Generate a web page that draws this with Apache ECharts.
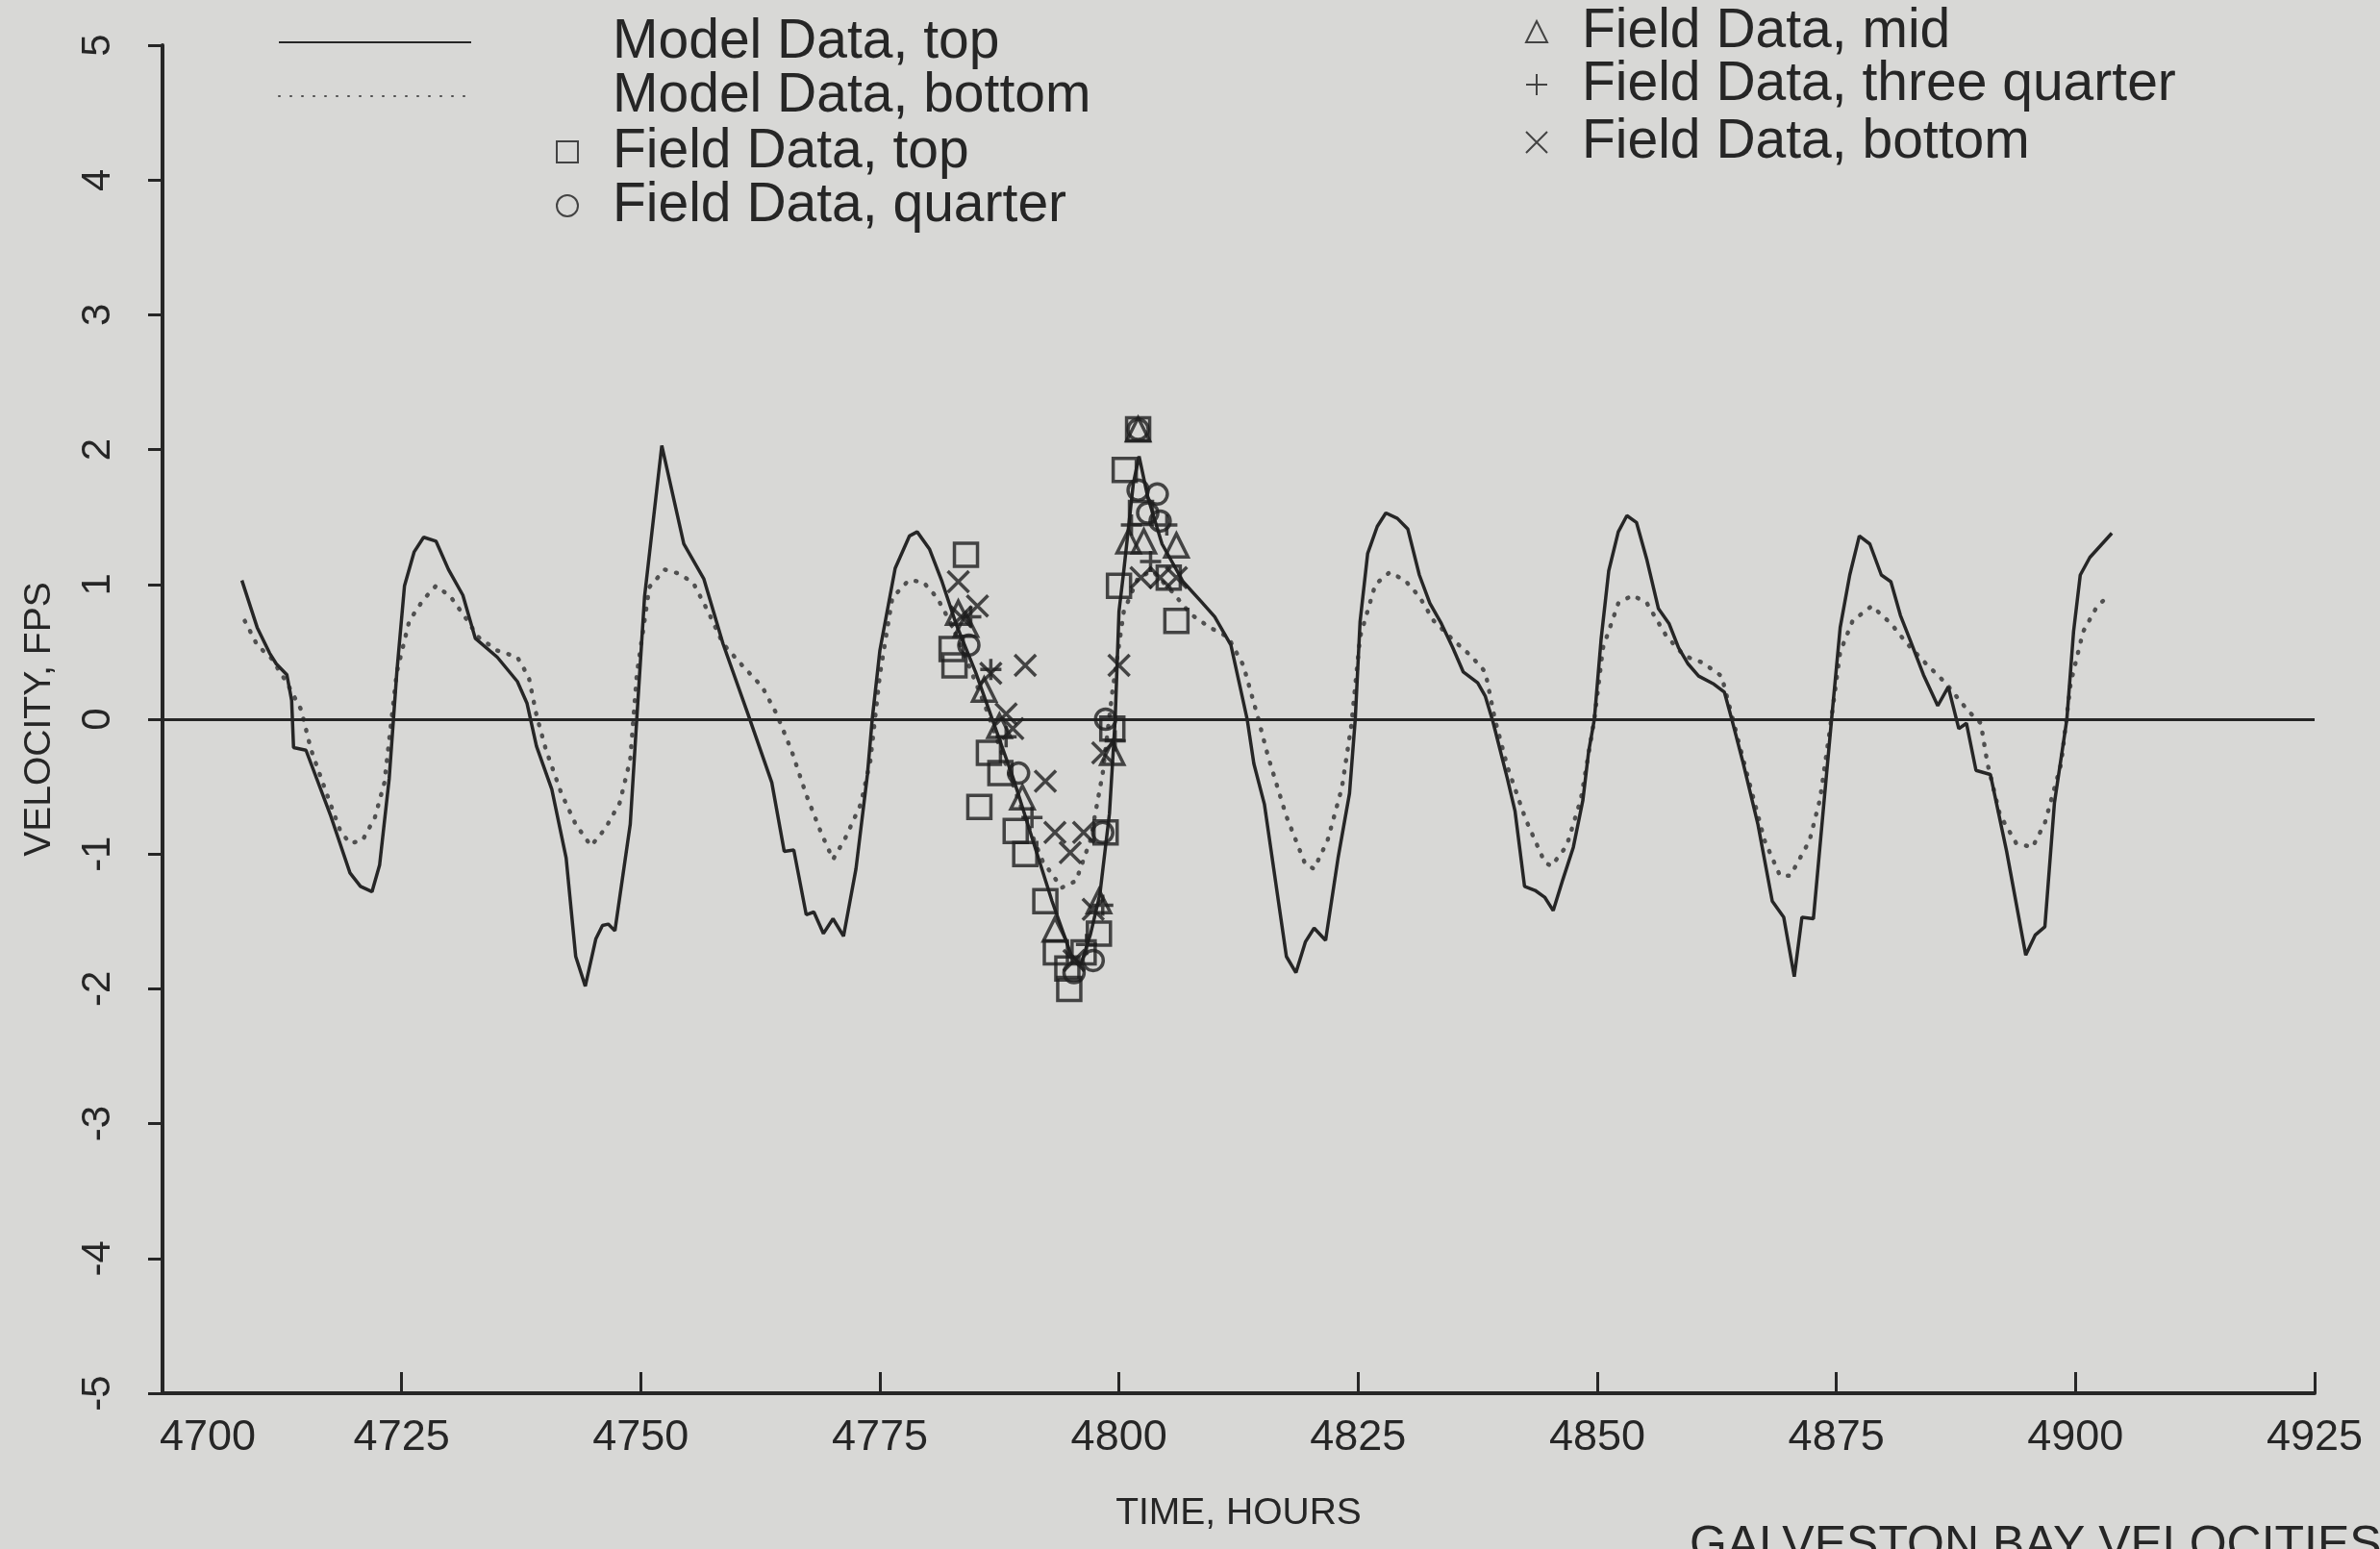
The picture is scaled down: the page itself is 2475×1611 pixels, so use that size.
<!DOCTYPE html>
<html>
<head>
<meta charset="utf-8">
<script src="https://cdn.jsdelivr.net/npm/echarts@6/dist/echarts.min.js"></script>
<style>
	html, body { margin: 0; padding: 0; background: #d7d7d5; }
	#velEchart { width: 2475px; height: 1611px; }
</style>
</head>
<body>
<div id="velEchart"></div>
<script>
//刻度
var xTicks = [4700, 4725, 4750, 4775, 4800, 4825, 4850, 4875, 4900, 4925];
var yTicks = [-5, -4, -3, -2, -1, 0, 1, 2, 3, 4, 5];

//模型数据 [时间, 流速]
var modelTop = [
	[4708.3, 1.03], [4709.9, 0.68], [4711.2, 0.49], [4711.9, 0.41], [4713.0, 0.33], [4713.5, 0.14],
	[4713.7, -0.21], [4715.0, -0.23], [4717.6, -0.72], [4719.6, -1.14], [4720.7, -1.24], [4721.9, -1.28],
	[4722.7, -1.08], [4723.7, -0.44], [4724.5, 0.35], [4725.3, 0.99], [4726.3, 1.24], [4727.3, 1.35],
	[4728.6, 1.32], [4729.9, 1.11], [4731.4, 0.92], [4732.7, 0.60], [4735.0, 0.46], [4737.1, 0.28],
	[4738.1, 0.12], [4739.1, -0.20], [4740.7, -0.52], [4742.2, -1.03], [4743.2, -1.76], [4744.2, -1.98],
	[4745.3, -1.63], [4746.0, -1.53], [4746.6, -1.52], [4747.3, -1.57], [4748.9, -0.78], [4749.6, 0.02],
	[4750.4, 0.91], [4752.2, 2.03], [4754.5, 1.30], [4756.6, 1.04], [4758.6, 0.56], [4761.2, 0.04],
	[4763.7, -0.47], [4765.0, -0.98], [4766.0, -0.97], [4767.3, -1.45], [4768.1, -1.43], [4769.1, -1.59],
	[4770.1, -1.48], [4771.2, -1.61], [4772.5, -1.11], [4773.7, -0.41], [4774.2, 0.0], [4775.0, 0.51],
	[4776.6, 1.12], [4778.1, 1.36], [4778.9, 1.39], [4780.2, 1.26], [4781.5, 1.02], [4783.0, 0.70],
	[4785.0, 0.35], [4787.0, -0.05], [4789.0, -0.45], [4791.0, -0.90], [4793.0, -1.35], [4795.0, -1.75],
	[4796.0, -1.82], [4797.0, -1.60], [4798.0, -1.30], [4799.0, -0.70], [4799.6, 0.0], [4800.0, 0.80],
	[4800.5, 1.10], [4801.5, 1.75], [4802.1, 1.95], [4803.0, 1.65], [4804.5, 1.30], [4806.7, 1.02],
	[4808.5, 0.88], [4810.0, 0.76], [4811.7, 0.55], [4813.4, 0.0], [4814.1, -0.33], [4815.2, -0.63],
	[4817.5, -1.76], [4818.5, -1.88], [4819.5, -1.65], [4820.4, -1.55], [4821.6, -1.64], [4822.9, -1.03],
	[4824.1, -0.55], [4824.7, 0.0], [4825.2, 0.72], [4826.0, 1.23], [4827.0, 1.43], [4827.9, 1.53],
	[4829.1, 1.49], [4830.2, 1.41], [4831.4, 1.07], [4832.5, 0.86], [4833.7, 0.71], [4834.9, 0.53],
	[4836.0, 0.35], [4837.5, 0.27], [4838.3, 0.17], [4839.1, -0.02], [4840.6, -0.44], [4841.4, -0.68],
	[4842.4, -1.24], [4843.5, -1.27], [4844.5, -1.32], [4845.4, -1.42], [4846.4, -1.19], [4847.5, -0.95],
	[4848.5, -0.60], [4849.1, -0.24], [4849.7, 0.0], [4850.4, 0.59], [4851.2, 1.10], [4852.2, 1.39],
	[4853.1, 1.51], [4854.1, 1.46], [4855.2, 1.18], [4856.4, 0.82], [4857.5, 0.71], [4858.5, 0.53],
	[4859.5, 0.41], [4860.6, 0.32], [4862.2, 0.26], [4863.3, 0.20], [4864.1, -0.01], [4865.2, -0.31],
	[4866.8, -0.78], [4868.3, -1.35], [4869.5, -1.47], [4870.6, -1.91], [4871.4, -1.47], [4872.6, -1.48],
	[4873.7, -0.62], [4874.5, 0.0], [4875.4, 0.68], [4876.4, 1.07], [4877.4, 1.36], [4878.5, 1.30],
	[4879.7, 1.07], [4880.7, 1.02], [4881.7, 0.77], [4882.7, 0.59], [4884.1, 0.33], [4885.6, 0.10],
	[4886.7, 0.24], [4887.8, -0.07], [4888.6, -0.03], [4889.6, -0.38], [4891.1, -0.41], [4892.8, -0.98],
	[4894.8, -1.75], [4895.8, -1.60], [4896.8, -1.54], [4897.8, -0.62], [4899.1, 0.0], [4899.8, 0.65],
	[4900.5, 1.07], [4901.5, 1.20], [4903.8, 1.38]
];
var modelBottom = [
	[4708.6, 0.73], [4709.9, 0.55], [4711.4, 0.45], [4713.0, 0.27], [4714.5, 0.07], [4715.5, -0.22],
	[4717.1, -0.54], [4718.6, -0.83], [4719.6, -0.92], [4720.9, -0.90], [4722.2, -0.73], [4723.2, -0.47],
	[4724.5, 0.35], [4725.8, 0.73], [4727.3, 0.89], [4728.6, 0.99], [4730.1, 0.91], [4731.7, 0.75],
	[4733.0, 0.61], [4735.0, 0.51], [4737.1, 0.46], [4738.3, 0.31], [4739.1, 0.03], [4740.1, -0.23],
	[4741.7, -0.55], [4743.2, -0.78], [4744.8, -0.94], [4746.3, -0.81], [4747.8, -0.62], [4748.9, -0.30],
	[4749.6, 0.34], [4750.9, 0.98], [4752.5, 1.11], [4754.0, 1.08], [4755.5, 1.01], [4757.1, 0.79],
	[4758.6, 0.56], [4760.6, 0.40], [4762.7, 0.24], [4764.2, 0.04], [4765.8, -0.24], [4767.3, -0.56],
	[4768.9, -0.85], [4770.1, -1.04], [4771.4, -0.88], [4773.0, -0.63], [4774.0, -0.31], [4775.0, 0.33],
	[4776.3, 0.90], [4778.0, 1.03], [4779.5, 1.02], [4781.0, 0.90], [4782.5, 0.70], [4784.0, 0.45],
	[4786.0, 0.10], [4788.0, -0.30], [4790.0, -0.70], [4792.0, -1.05], [4794.0, -1.25], [4795.5, -1.20],
	[4797.0, -0.90], [4798.3, -0.40], [4799.3, 0.20], [4800.5, 0.80], [4802.0, 1.05], [4803.5, 1.10],
	[4805.5, 0.95], [4807.5, 0.78], [4809.5, 0.68], [4811.4, 0.61], [4813.0, 0.40], [4814.5, 0.02],
	[4815.6, -0.28], [4817.5, -0.72], [4819.5, -1.08], [4820.4, -1.11], [4821.8, -0.90], [4823.3, -0.51],
	[4824.3, -0.04], [4825.2, 0.61], [4826.8, 1.00], [4828.3, 1.09], [4829.9, 1.03], [4831.4, 0.91],
	[4832.9, 0.73], [4834.9, 0.59], [4836.8, 0.47], [4838.3, 0.35], [4839.3, 0.0], [4840.6, -0.35],
	[4842.5, -0.74], [4844.5, -1.06], [4845.2, -1.09], [4846.8, -0.94], [4848.3, -0.59], [4849.7, 0.0],
	[4850.6, 0.53], [4852.2, 0.86], [4853.7, 0.92], [4855.2, 0.86], [4857.2, 0.62], [4859.1, 0.47],
	[4861.0, 0.42], [4863.0, 0.32], [4864.1, 0.02], [4865.6, -0.39], [4867.5, -0.90], [4869.1, -1.16],
	[4870.2, -1.16], [4872.2, -0.90], [4873.3, -0.59], [4874.3, -0.09], [4875.4, 0.50], [4876.7, 0.73],
	[4878.7, 0.84], [4880.7, 0.71], [4882.4, 0.56], [4884.4, 0.41], [4886.4, 0.27], [4888.8, 0.06],
	[4890.1, -0.03], [4890.8, -0.33], [4892.1, -0.71], [4893.8, -0.92], [4895.5, -0.95], [4896.8, -0.77],
	[4898.5, -0.33], [4899.5, 0.27], [4900.8, 0.65], [4902.2, 0.83], [4903.2, 0.90]
];

//实测数据
var fieldTop = [
	[4784.0, 1.22], [4782.5, 0.52], [4782.8, 0.40], [4786.4, -0.25], [4787.6, -0.40], [4785.4, -0.65],
	[4789.2, -0.83], [4790.2, -1.00], [4792.3, -1.35], [4793.4, -1.73], [4794.6, -1.85], [4794.8, -2.00],
	[4796.3, -1.73], [4797.9, -1.59], [4798.6, -0.84], [4799.3, -0.07], [4800.0, 0.99], [4800.6, 1.85],
	[4802.0, 2.15], [4802.3, 1.53], [4806.0, 0.73], [4805.2, 1.05]
];
var fieldQuarter = [
	[4802.0, 2.15], [4802.0, 1.70], [4803.0, 1.53], [4804.0, 1.67], [4804.3, 1.47], [4798.3, -0.84],
	[4798.6, 0.0], [4797.3, -1.79], [4795.3, -1.88], [4784.3, 0.55], [4789.5, -0.40]
];
var fieldMid = [
	[4783.2, 0.79], [4784.0, 0.70], [4785.9, 0.22], [4789.9, -0.58], [4793.3, -1.56], [4797.9, -1.35],
	[4799.3, -0.25], [4801.0, 1.32], [4802.6, 1.32], [4806.0, 1.29], [4802.0, 2.15], [4787.5, -0.05]
];
var fieldThreeQuarter = [
	[4784.5, 0.76], [4786.6, 0.37], [4788.2, -0.13], [4790.9, -0.73], [4796.6, -1.67], [4798.3, -1.38],
	[4799.6, -0.16], [4801.3, 1.44], [4803.3, 1.17], [4805.0, 1.44]
];
var fieldBottom = [
	[4783.2, 1.02], [4785.2, 0.84], [4783.5, 0.76], [4790.2, 0.40], [4786.6, 0.34], [4788.2, 0.04],
	[4788.9, -0.07], [4792.3, -0.46], [4793.3, -0.84], [4796.3, -0.84], [4794.9, -0.99], [4798.3, -0.25],
	[4800.0, 0.40], [4802.3, 1.05], [4804.3, 1.05], [4806.0, 1.05], [4797.3, -1.41], [4795.3, -1.79]
];

var inkColor = '#262626';
var fontName = "'Liberation Sans', Arial, sans-serif";
var legendText = {
	fontFamily: fontName,
	fontSize: 57,
	lineHeight: 60,
	color: inkColor
};
var markStyle = {
	color: 'transparent',
	borderColor: '#1e1e1e',
	borderWidth: 3.5
};

var velEchart = echarts.init(document.getElementById('velEchart'));

//图例：每个一块，按原图位置摆放
function oneLegend(name, left, centerY, w, h, gap, hideSymbol) {
	var leg = {
		left: left,
		top: centerY - 30,
		padding: 0,
		itemWidth: w,
		itemHeight: h,
		data: [name],
		textStyle: Object.assign({ padding: [0, 0, 0, gap] }, legendText)
	};
	if (hideSymbol) {
		//线的图例不要中间的小圆点
		leg.itemStyle = { opacity: 0 };
	}
	return leg;
}

var velOption = {
	backgroundColor: '#d8d8d6',
	animation: false,
	textStyle: {
		fontFamily: fontName,
		color: inkColor
	},
	legend: [
		oneLegend('Model Data, top', 289, 44, 200, 10, 142, true),
		oneLegend('Model Data, bottom', 289, 100, 200, 10, 142, true),
		oneLegend('Field Data, top', 578, 158, 22, 22, 31),
		oneLegend('Field Data, quarter', 578, 214, 22, 22, 31),
		oneLegend('Field Data, mid', 1586, 33, 22, 22, 31),
		oneLegend('Field Data, three quarter', 1586, 88, 22, 22, 31),
		oneLegend('Field Data, bottom', 1586, 148, 22, 22, 31)
	],
	grid: {
		left: 169,
		right: 68,
		top: 47,
		bottom: 162
	},
	xAxis: {
		type: 'value',
		min: xTicks[0],
		max: xTicks[xTicks.length - 1],
		interval: 25,
		name: 'TIME, HOURS',
		nameLocation: 'middle',
		nameGap: 106,
		nameTextStyle: {
			fontSize: 39,
			color: inkColor
		},
		axisLine: {
			onZero: false,
			lineStyle: { color: inkColor, width: 4 }
		},
		axisTick: {
			inside: true,
			length: 22,
			lineStyle: { color: inkColor, width: 3 }
		},
		axisLabel: {
			fontSize: 45,
			margin: 24,
			color: inkColor,
			//第一个刻度标签右移
			formatter: function(value, index) {
				return index === 0 ? '{a|' + value + '}' : String(value);
			},
			rich: {
				a: { fontSize: 45, padding: [0, 0, 0, 94], color: inkColor }
			}
		},
		splitLine: { show: false }
	},
	yAxis: {
		type: 'value',
		min: yTicks[0],
		max: yTicks[yTicks.length - 1],
		interval: 1,
		name: 'VELOCITY, FPS',
		nameLocation: 'middle',
		nameGap: 108,
		nameTextStyle: {
			fontSize: 39,
			color: inkColor
		},
		axisLine: {
			show: true,
			lineStyle: { color: inkColor, width: 4 }
		},
		axisTick: {
			show: true,
			length: 15,
			lineStyle: { color: inkColor, width: 3 }
		},
		axisLabel: {
			rotate: 90,
			fontSize: 42,
			margin: 46,
			color: inkColor
		},
		splitLine: { show: false }
	},
	graphic: [{
		type: 'text',
		left: 1757,
		top: 1583,
		style: {
			text: 'GALVESTON BAY VELOCITIES',
			font: '50px ' + fontName,
			fill: inkColor
		}
	}],
	series: [{
		name: 'Model Data, top',
		type: 'line',
		symbol: 'none',
		data: modelTop,
		lineStyle: { color: inkColor, width: 3.5 },
		itemStyle: { color: inkColor },
		//零线
		markLine: {
			silent: true,
			symbol: 'none',
			label: { show: false },
			lineStyle: { color: inkColor, width: 3, type: 'solid' },
			data: [{ yAxis: 0 }]
		},
		z: 3
	}, {
		name: 'Model Data, bottom',
		type: 'line',
		symbol: 'none',
		data: modelBottom,
		lineStyle: { color: '#505050', width: 4.5, type: [1, 11], cap: 'round' },
		itemStyle: { color: '#505050' },
		z: 2
	}, {
		name: 'Field Data, top',
		type: 'scatter',
		symbol: 'rect',
		symbolSize: 24,
		data: fieldTop,
		itemStyle: markStyle,
		z: 5
	}, {
		name: 'Field Data, quarter',
		type: 'scatter',
		symbol: 'circle',
		symbolSize: 21,
		data: fieldQuarter,
		itemStyle: markStyle,
		z: 5
	}, {
		name: 'Field Data, mid',
		type: 'scatter',
		symbol: 'triangle',
		symbolSize: 24,
		data: fieldMid,
		itemStyle: markStyle,
		z: 5
	}, {
		name: 'Field Data, three quarter',
		type: 'scatter',
		symbol: 'path://M0,5L10,5M5,0L5,10',
		symbolSize: 22,
		data: fieldThreeQuarter,
		itemStyle: markStyle,
		z: 5
	}, {
		name: 'Field Data, bottom',
		type: 'scatter',
		symbol: 'path://M0,0L10,10M10,0L0,10',
		symbolSize: 22,
		data: fieldBottom,
		itemStyle: markStyle,
		z: 5
	}]
};
velEchart.setOption(velOption);
</script>
</body>
</html>
